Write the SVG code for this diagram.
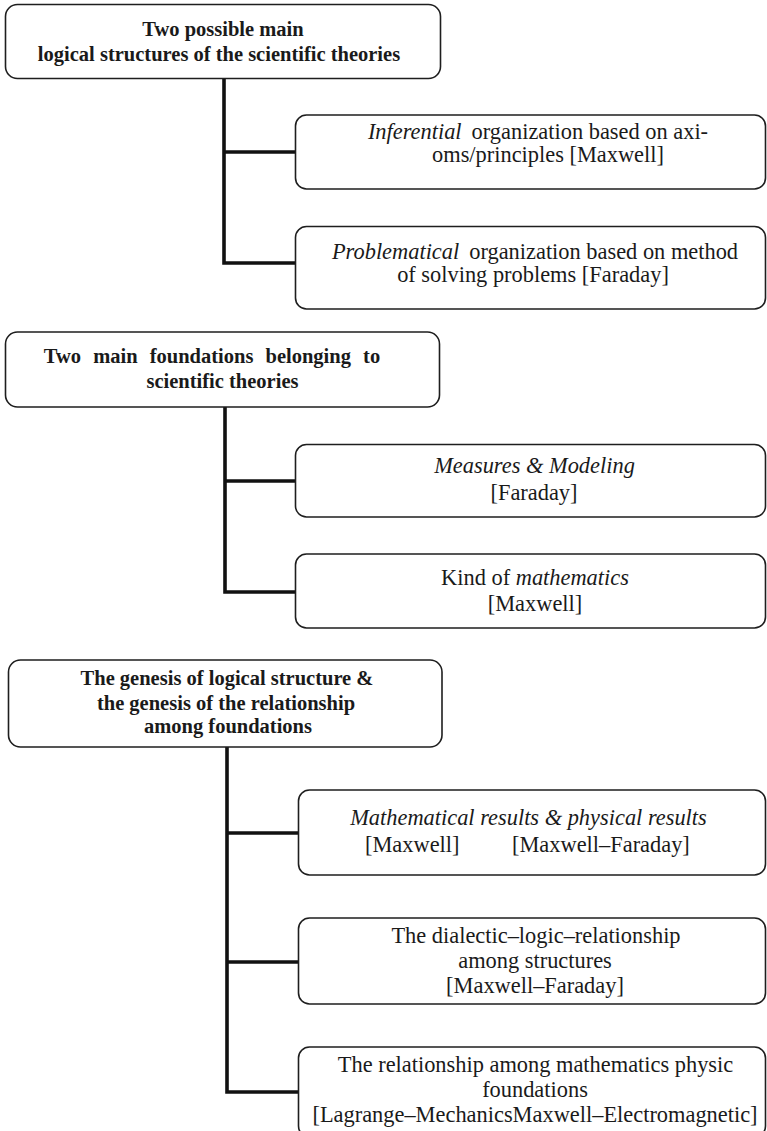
<svg xmlns="http://www.w3.org/2000/svg" width="767" height="1131" viewBox="0 0 767 1131">
<style>
  .box { fill: #ffffff; stroke: #1e1e1e; stroke-width: 1.6; }
  .hd { font-family: "Liberation Serif", "Times New Roman", serif; font-weight: bold; font-size: 20.5px; fill: #1a1a1a; text-anchor: middle; }
  .tx { font-family: "Liberation Serif", "Times New Roman", serif; font-size: 22.4px; fill: #1a1a1a; text-anchor: middle; }
  .st { text-anchor: start; }
  .it { font-style: italic; }
  .con { fill: none; stroke: #111111; stroke-width: 3.6; stroke-linejoin: miter; stroke-linecap: butt; }
</style>
<rect width="767" height="1131" fill="#ffffff"/>

<g id="connectors">
  <path class="con" d="M224 78 V263 H296"/>
  <path class="con" d="M224 152 H296"/>
  <path class="con" d="M225 407 V592 H296"/>
  <path class="con" d="M225 481 H296"/>
  <path class="con" d="M227 747 V1092 H299"/>
  <path class="con" d="M227 833 H299"/>
  <path class="con" d="M227 962 H299"/>
</g>

<g id="header1">
  <rect class="box" x="5.5" y="4.5" width="435" height="74" rx="12"/>
  <text class="hd" x="223" y="36">Two possible main</text>
  <text class="hd" x="219" y="61">logical structures of the scientific theories</text>
</g>
<g id="inferential">
  <rect class="box" x="295.5" y="115" width="470" height="74" rx="11"/>
  <text class="tx" x="538" y="139"><tspan class="it">Inferential</tspan><tspan dx="10">organization based on axi-</tspan></text>
  <text class="tx" x="548" y="162">oms/principles [Maxwell]</text>
</g>
<g id="problematical">
  <rect class="box" x="295.5" y="226.5" width="470" height="82.5" rx="11"/>
  <text class="tx" x="535" y="259"><tspan class="it">Problematical</tspan><tspan dx="10">organization based on method</tspan></text>
  <text class="tx" x="533" y="282">of solving problems [Faraday]</text>
</g>

<g id="header2">
  <rect class="box" x="5.5" y="332" width="434" height="75" rx="12"/>
  <text class="hd" x="212" y="363" word-spacing="7">Two main foundations belonging to</text>
  <text class="hd" x="222.5" y="388">scientific theories</text>
</g>
<g id="measures">
  <rect class="box" x="295.5" y="444.5" width="470" height="72.5" rx="11"/>
  <text class="tx it" x="534.5" y="473">Measures &amp; Modeling</text>
  <text class="tx" x="534" y="500">[Faraday]</text>
</g>
<g id="kind">
  <rect class="box" x="295.5" y="554" width="470" height="74" rx="11"/>
  <text class="tx" x="535" y="585">Kind of <tspan class="it">mathematics</tspan></text>
  <text class="tx" x="535" y="611">[Maxwell]</text>
</g>

<g id="header3">
  <rect class="box" x="8.5" y="660" width="433.5" height="87" rx="12"/>
  <text class="hd" x="227" y="685">The genesis of logical structure &amp;</text>
  <text class="hd" x="226" y="710">the genesis of the relationship</text>
  <text class="hd" x="228" y="733">among foundations</text>
</g>
<g id="results">
  <rect class="box" x="298.5" y="790" width="467" height="85" rx="11"/>
  <text class="tx it" x="528.5" y="825">Mathematical results &amp; physical results</text>
  <text class="tx st" x="365" y="852">[Maxwell]</text>
  <text class="tx st" x="512" y="852">[Maxwell–Faraday]</text>
</g>
<g id="dialectic">
  <rect class="box" x="298.5" y="918" width="467" height="86" rx="11"/>
  <text class="tx" x="536" y="943">The dialectic–logic–relationship</text>
  <text class="tx" x="535" y="968">among structures</text>
  <text class="tx" x="535" y="993">[Maxwell–Faraday]</text>
</g>
<g id="relationship">
  <rect class="box" x="298.5" y="1047" width="467" height="90" rx="11"/>
  <text class="tx" x="535.5" y="1072">The relationship among mathematics physic</text>
  <text class="tx" x="535" y="1097">foundations</text>
  <text class="tx" x="535" y="1122">[Lagrange–MechanicsMaxwell–Electromagnetic]</text>
</g>
</svg>
